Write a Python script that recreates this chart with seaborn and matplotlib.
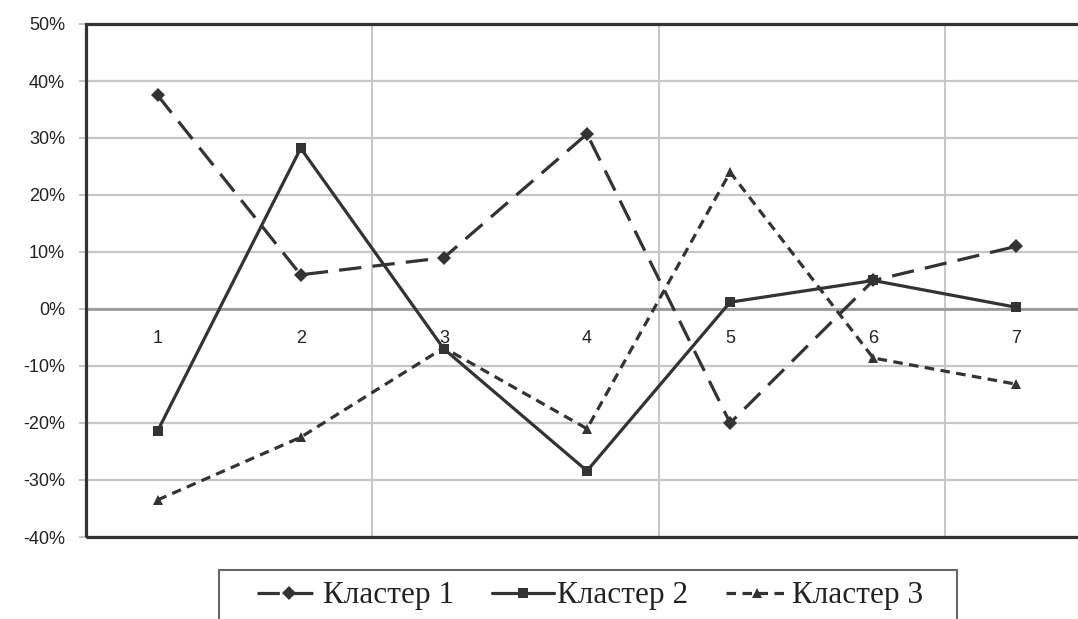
import matplotlib
matplotlib.use("Agg")
import matplotlib.pyplot as plt
from matplotlib.patches import Rectangle
from matplotlib.ticker import PercentFormatter, FixedLocator
import seaborn as sns
import pandas as pd

# Cluster profiles (share, fraction of 1) for indicators 1..7
categories = [1, 2, 3, 4, 5, 6, 7]
cluster_1 = [0.375, 0.06, 0.09, 0.307, -0.20, 0.05, 0.11]
cluster_2 = [-0.214, 0.282, -0.07, -0.284, 0.012, 0.05, 0.003]
cluster_3 = [-0.335, -0.225, -0.068, -0.21, 0.24, -0.086, -0.132]
series_names = ["Кластер 1", "Кластер 2", "Кластер 3"]
y_ticks = [-0.4, -0.3, -0.2, -0.1, 0.0, 0.1, 0.2, 0.3, 0.4, 0.5]

df = pd.DataFrame({
    "x": categories * 3,
    "value": cluster_1 + cluster_2 + cluster_3,
    "series": [series_names[0]] * 7 + [series_names[1]] * 7 + [series_names[2]] * 7,
})

sns.set_theme(style="white")
plt.rcParams["font.family"] = ["Liberation Sans", "DejaVu Sans"]
plt.rcParams["axes.unicode_minus"] = False

ink = "#333333"
grid = "#c6c6c6"

fig = plt.figure(figsize=(10.78, 6.19), dpi=100)
ax = fig.add_axes([86 / 1078, 1 - 537 / 619, 1002 / 1078, 513 / 619])

sns.lineplot(
    data=df, x="x", y="value", style="series", ax=ax,
    color=ink, linewidth=2.3,
    markers={series_names[0]: "D", series_names[1]: "s", series_names[2]: "^"},
    dashes={series_names[0]: (7, 3.5), series_names[1]: "", series_names[2]: (3, 2)},
    markersize=7.5, markeredgewidth=0, legend=True,
)

ax.set_xlim(0.5, 7.5)
ax.set_ylim(-0.4, 0.5)

# gridlines
for y in y_ticks:
    ax.axhline(y, color=grid, lw=1.6, zorder=0)
for x in [2.5, 4.5, 6.5]:
    ax.axvline(x, color=grid, lw=1.4, zorder=0)

# category axis crosses at zero
for s in ["top", "right", "left"]:
    ax.spines[s].set_visible(False)
ax.spines["bottom"].set_position(("data", 0))
ax.spines["bottom"].set_color("#9a9a9a")
ax.spines["bottom"].set_linewidth(2)
ax.spines["bottom"].set_zorder(1)
ax.add_patch(Rectangle((0, 0), 1, 1, transform=ax.transAxes, fill=False,
                       ec=ink, lw=2.3, clip_on=False, zorder=5))

ax.set_xticks(categories)
ax.set_xticklabels([str(c) for c in categories])
ax.xaxis.set_minor_locator(FixedLocator([1.5, 2.5, 3.5, 4.5, 5.5, 6.5]))
ax.tick_params(axis="x", which="major", length=0, pad=15, labelsize=13, colors="#222222")
ax.tick_params(axis="x", which="minor", length=7, width=1.2, direction="inout", color="#9a9a9a")

ax.set_yticks(y_ticks)
ax.yaxis.set_major_formatter(PercentFormatter(1.0, decimals=0))
ax.tick_params(axis="y", which="major", length=5, width=1.4, color=grid, pad=10,
               labelsize=13, labelcolor="#222222", left=True)

ax.set_xlabel("")
ax.set_ylabel("")

handles, labels = ax.get_legend_handles_labels()
ax.get_legend().remove()

leg = fig.legend(
    handles, labels, loc="center", bbox_to_anchor=(590 / 1078, 1 - 596 / 619),
    ncol=3, frameon=False, handlelength=2.0, handletextpad=0.1, columnspacing=1.2,
    prop={"family": "Liberation Serif", "size": 22.5},
)
for t in leg.get_texts():
    t.set_color("#222222")

fig.patches.append(Rectangle((219 / 1078, -0.05), (957 - 219) / 1078, 0.05 + 1 - 570 / 619,
                             transform=fig.transFigure, fill=False, ec="#666666", lw=1.5))

fig.savefig("out.png", dpi=100)
